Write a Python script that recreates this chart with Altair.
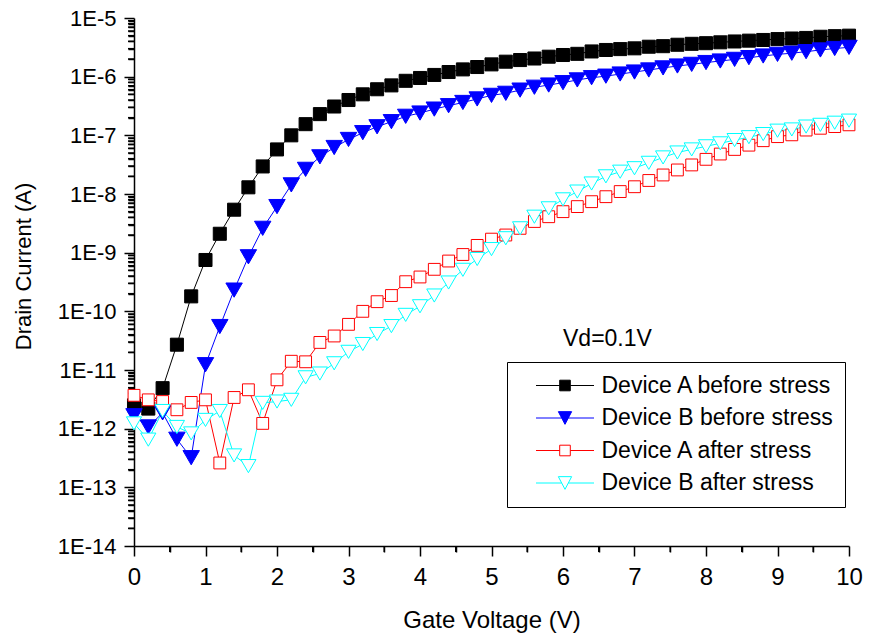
import altair as alt
import pandas as pd

FONT = "Liberation Sans"

# ---------------- data ----------------
gate_voltage = [0.0, 0.2, 0.4, 0.6, 0.8, 1.0, 1.2, 1.4, 1.6, 1.8,
                2.0, 2.2, 2.4, 2.6, 2.8, 3.0, 3.2, 3.4, 3.6, 3.8,
                4.0, 4.2, 4.4, 4.6, 4.8, 5.0, 5.2, 5.4, 5.6, 5.8,
                6.0, 6.2, 6.4, 6.6, 6.8, 7.0, 7.2, 7.4, 7.6, 7.8,
                8.0, 8.2, 8.4, 8.6, 8.8, 9.0, 9.2, 9.4, 9.6, 9.8, 10.0]

series_names = ["Device A before stress", "Device B before stress",
                "Device A after stress", "Device B after stress"]

device_a_before = [2.5e-12, 2.2e-12, 4.9e-12, 2.7e-11, 1.8e-10, 7.5e-10, 2.1e-9, 5.4e-9, 1.3e-8, 2.95e-8,
                   5.75e-8, 1.0e-7, 1.55e-7, 2.3e-7, 3.1e-7, 4.0e-7, 5.0e-7, 6.1e-7, 7.1e-7, 8.5e-7,
                   9.5e-7, 1.07e-6, 1.2e-6, 1.33e-6, 1.46e-6, 1.62e-6, 1.8e-6, 1.92e-6, 2.04e-6, 2.19e-6,
                   2.34e-6, 2.45e-6, 2.69e-6, 2.85e-6, 2.95e-6, 3.04e-6, 3.24e-6, 3.31e-6, 3.5e-6, 3.63e-6,
                   3.72e-6, 3.85e-6, 3.98e-6, 4.11e-6, 4.22e-6, 4.37e-6, 4.47e-6, 4.57e-6, 4.79e-6, 4.9e-6, 5.0e-6]

device_b_before = [1.66e-12, 1.07e-12, 1.86e-12, 6.6e-13, 3.2e-13, 1.23e-11, 5.5e-11, 2.3e-10, 8.5e-10, 2.6e-9,
                   6.1e-9, 1.43e-8, 2.63e-8, 4.3e-8, 6.2e-8, 8.5e-8, 1.11e-7, 1.4e-7, 1.71e-7, 2.11e-7,
                   2.4e-7, 2.8e-7, 3.2e-7, 3.63e-7, 4.17e-7, 4.8e-7, 5.2e-7, 5.9e-7, 6.6e-7, 7.2e-7,
                   7.9e-7, 8.8e-7, 9.6e-7, 1.02e-6, 1.11e-6, 1.2e-6, 1.3e-6, 1.41e-6, 1.52e-6, 1.62e-6,
                   1.74e-6, 1.85e-6, 1.97e-6, 2.11e-6, 2.25e-6, 2.4e-6, 2.51e-6, 2.67e-6, 2.85e-6, 3.02e-6, 3.16e-6]

device_a_after = [3.7e-12, 3.1e-12, 2.9e-12, 2.1e-12, 2.8e-12, 3.1e-12, 2.6e-13, 3.4e-12, 4.6e-12, 1.23e-12,
                  6.8e-12, 1.41e-11, 1.38e-11, 2.95e-11, 3.8e-11, 6.0e-11, 1.0e-10, 1.46e-10, 1.86e-10, 3.2e-10,
                  3.85e-10, 5.2e-10, 7.2e-10, 9.3e-10, 1.33e-9, 1.7e-9, 2.0e-9, 2.6e-9, 3.4e-9, 4.1e-9,
                  5.0e-9, 6.1e-9, 7.4e-9, 9.0e-9, 1.1e-8, 1.33e-8, 1.7e-8, 2.11e-8, 2.57e-8, 3.13e-8,
                  3.9e-8, 4.8e-8, 5.75e-8, 6.8e-8, 8.1e-8, 9.5e-8, 1.02e-7, 1.23e-7, 1.32e-7, 1.41e-7, 1.51e-7]

device_b_after = [1.23e-12, 6.5e-13, 2.0e-12, 1.07e-12, 8.3e-13, 1.41e-12, 2.0e-12, 3.5e-13, 2.3e-13, 2.75e-12,
                  2.9e-12, 3.1e-12, 7.5e-12, 8.7e-12, 1.3e-11, 2.04e-11, 2.77e-11, 4.1e-11, 5.6e-11, 8.7e-11,
                  1.22e-10, 1.86e-10, 3.1e-10, 5.1e-10, 7.8e-10, 1.15e-9, 1.76e-9, 2.6e-9, 4.1e-9, 5.7e-9,
                  8.1e-9, 1.1e-8, 1.51e-8, 2.0e-8, 2.4e-8, 2.75e-8, 3.4e-8, 4.2e-8, 5.1e-8, 5.75e-8,
                  6.5e-8, 7.3e-8, 8.3e-8, 9.3e-8, 1.05e-7, 1.2e-7, 1.26e-7, 1.41e-7, 1.51e-7, 1.64e-7, 1.78e-7]

x_ticks = [0, 1, 2, 3, 4, 5, 6, 7, 8, 9, 10]
x_minor_ticks = [0.5, 1.5, 2.5, 3.5, 4.5, 5.5, 6.5, 7.5, 8.5, 9.5]
y_ticks = [1e-14, 1e-13, 1e-12, 1e-11, 1e-10, 1e-9, 1e-8, 1e-7, 1e-6, 1e-5]
y_minor_ticks = [m * 10.0 ** k for k in range(-14, -5) for m in range(2, 10)]

annotation_text = ["Vd=0.1V"]
annotation_v = [6.0]
annotation_i = [2.57e-11]

# ---------------- tables ----------------
rows = []
for name, vals in zip(series_names,
                      [device_a_before, device_b_before, device_a_after, device_b_after]):
    for v, i in zip(gate_voltage, vals):
        rows.append({"V": v, "I": i, "series": name})
df = pd.DataFrame(rows)
ann = pd.DataFrame({"V": annotation_v, "I": annotation_i, "label": annotation_text})
xminor_df = pd.DataFrame({"V": x_minor_ticks})
yminor_df = pd.DataFrame({"I": y_minor_ticks})

# ---------------- styles ----------------
line_colors = ["#000000", "#0000ff", "#ff0000", "#00ffff"]
fill_colors = ["#000000", "#0000ff", "#ffffff", "#ffffff"]
marker_shapes = ["square", "triangle-down", "square", "triangle-down"]
marker_sizes = [170, 270, 140, 230]
SQ_PATH = "M-5.8,0H-1.06M1.06,0H5.8M-1.06,-1.06H1.06V1.06H-1.06Z"
TRI_PATH = "M-5.8,0H-0.665M0.665,0H5.8M-1.33,-1.27H1.33L0,1.27Z"
legend_paths = [SQ_PATH, TRI_PATH, SQ_PATH, TRI_PATH]

xscale = alt.Scale(domain=[0, 10], nice=False, zero=False)
yscale = alt.Scale(type="log", domain=[1e-14, 1e-5], nice=False)
cscale = alt.Scale(domain=series_names, range=line_colors)
fscale = alt.Scale(domain=series_names, range=fill_colors)
sscale = alt.Scale(domain=series_names, range=legend_paths)

common_axis = dict(labelFont=FONT, titleFont=FONT, labelColor="black", titleColor="black",
                   tickColor="black", domainColor="black", grid=False)

x_major_axis = alt.Axis(orient="bottom", values=x_ticks, format="d", tickSize=10, tickWidth=1.5,
                        domainWidth=1.5, labelFontSize=24, labelPadding=9, labelFlush=False,
                        labelOverlap=False, title="Gate Voltage (V)", titleFontSize=24,
                        titleY=81, titleBaseline="alphabetic", titleFontWeight="normal",
                        **common_axis)
y_major_axis = alt.Axis(orient="left", values=y_ticks, tickSize=10, tickWidth=1.5, domainWidth=1.5,
                        labelExpr="'1E' + round(log(datum.value) / LN10)", labelFontSize=22,
                        labelPadding=8, labelFlush=False, labelOverlap=False,
                        title="Drain Current (A)", titleFontSize=22, titleX=-111, titleY=248,
                        titleAngle=270, titleBaseline="middle", titleFontWeight="normal",
                        **common_axis)
x_minor_axis = alt.Axis(orient="bottom", values=x_minor_ticks, tickSize=6, tickWidth=1.5,
                        tickColor="black", labels=False, domain=False, grid=False, title=None)
y_minor_axis = alt.Axis(orient="left", values=y_minor_ticks, tickSize=6, tickWidth=1.5,
                        tickColor="black", labels=False, domain=False, grid=False, title=None)

base = alt.Chart(df)


def series_line(k, xaxis=None, yaxis=None):
    return base.transform_filter(alt.datum.series == series_names[k]).mark_line(
        strokeWidth=1, color=line_colors[k]
    ).encode(
        x=alt.X("V:Q", scale=xscale, axis=xaxis),
        y=alt.Y("I:Q", scale=yscale, axis=yaxis),
    )


def series_points(k):
    return base.transform_filter(alt.datum.series == series_names[k]).mark_point(
        shape=marker_shapes[k], size=marker_sizes[k], strokeWidth=1, opacity=1,
        stroke=line_colors[k], fill=fill_colors[k], filled=True
    ).encode(
        x=alt.X("V:Q", scale=xscale, axis=None),
        y=alt.Y("I:Q", scale=yscale, axis=None),
    )


l1 = series_line(0, x_major_axis, y_major_axis)
l2 = series_line(1)
l3 = series_line(2)
l4 = series_line(3)
p1, p2, p3, p4 = [series_points(k) for k in range(4)]

# minor ticks drawn through the axis scales
x_minor = alt.Chart(xminor_df).mark_rule(color="black", strokeWidth=1.5).encode(
    x=alt.X("V:Q", scale=xscale, axis=x_minor_axis),
    y=alt.value(528), y2=alt.value(534),
)
y_minor = alt.Chart(yminor_df).mark_rule(color="black", strokeWidth=1.5).encode(
    y=alt.Y("I:Q", scale=yscale, axis=y_minor_axis),
    x=alt.value(-6), x2=alt.value(0),
)

leg = alt.Legend(title=None, orient="none", legendX=373, legendY=344, padding=12, rowPadding=8.5,
                 symbolOffset=34.5, labelOffset=25, labelFontSize=23, labelFont=FONT,
                 labelColor="black", labelLimit=400, strokeColor="black", fillColor="white",
                 symbolSize=100, symbolStrokeWidth=1, symbolFillColor="white", symbolOpacity=1)

# legend-only layer: its rows are filtered away, the legend comes from the fixed scale domains
legend_layer = base.transform_filter("false").mark_point(strokeWidth=1).encode(
    x=alt.X("V:Q", scale=xscale, axis=None),
    y=alt.Y("I:Q", scale=yscale, axis=None),
    color=alt.Color("series:N", scale=cscale, legend=leg),
    fill=alt.Fill("series:N", scale=fscale, legend=leg),
    shape=alt.Shape("series:N", scale=sscale, legend=leg),
)

text = alt.Chart(ann).mark_text(align="left", baseline="alphabetic", fontSize=23, font=FONT,
                                color="black").encode(
    x=alt.X("V:Q", scale=xscale, axis=None),
    y=alt.Y("I:Q", scale=yscale, axis=None),
    text="label:N",
)

chart = alt.layer(l1, x_minor, y_minor, l2, l3, l4, p1, p2, p3, p4, legend_layer, text).resolve_axis(
    x="independent", y="independent"
).properties(
    width=715, height=528,
    autosize=alt.AutoSizeParams(type="none"),
    padding={"left": 134, "top": 18, "right": 30, "bottom": 91},
).configure_view(stroke=None)

chart.save("out.html", embed_options={"renderer": "svg", "actions": False})
